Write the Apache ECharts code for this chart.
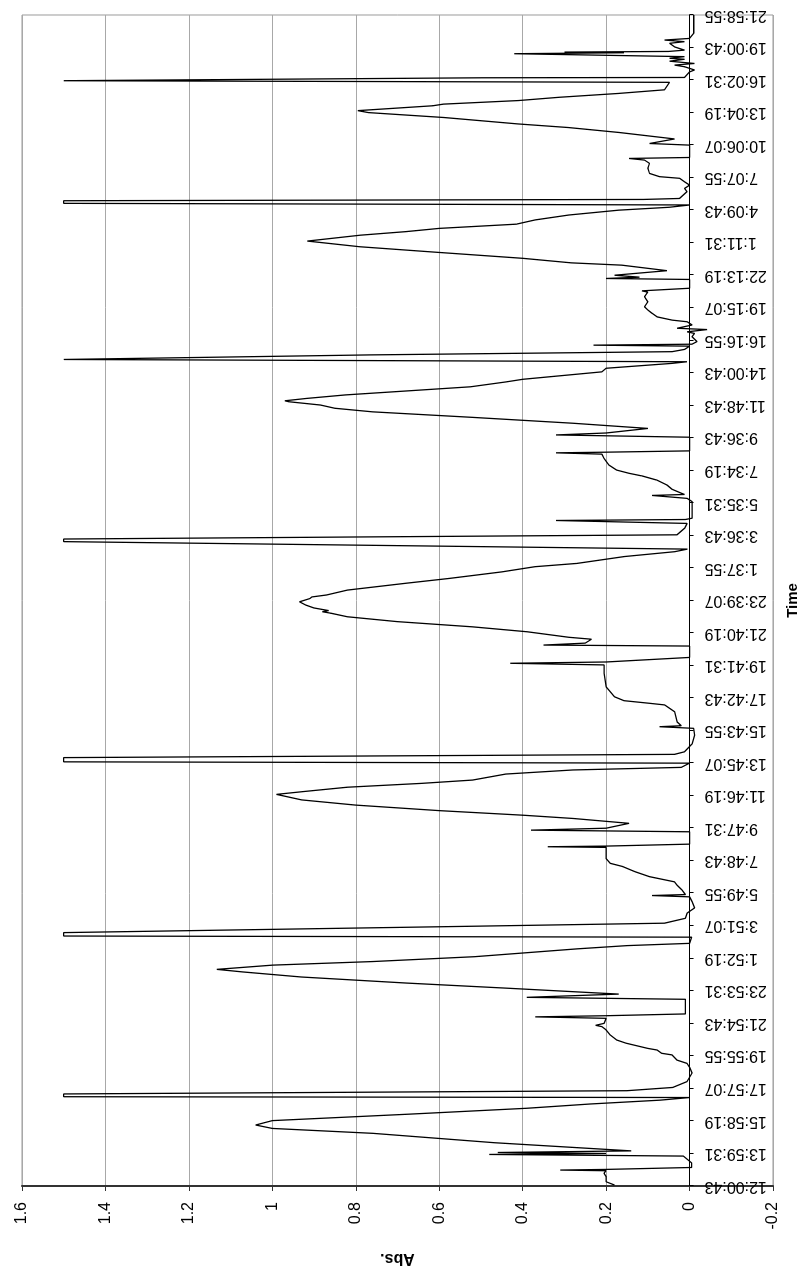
<!DOCTYPE html>
<html>
<head>
<meta charset="utf-8">
<title>Abs. vs Time</title>
<script src="https://cdn.jsdelivr.net/npm/echarts@6/dist/echarts.min.js"></script>
<style>
  html, body {
    margin: 0;
    padding: 0;
    background: #fff;
    overflow: hidden;
  }
  #page {
    position: relative;
    width: 808px;
    height: 1268px;
  }
  /* the chart is drawn lying on its side, like the scanned sheet */
  #chart {
    position: absolute;
    left: 0;
    top: 0;
    width: 1268px;
    height: 808px;
    transform-origin: 0 0;
    transform: translate(0, 1268px) rotate(-90deg);
  }
</style>
</head>
<body>
<div id="page"><div id="chart"></div></div>
<script>
// time labels on the category axis, one every label step
var timeLabels = ['12:00:43', '13:59:31', '15:58:19', '17:57:07', '19:55:55', '21:54:43', '23:53:31',
  '1:52:19', '3:51:07', '5:49:55', '7:48:43', '9:47:31', '11:46:19', '13:45:07', '15:43:55',
  '17:42:43', '19:41:31', '21:40:19', '23:39:07', '1:37:55', '3:36:43', '5:35:31', '7:34:19',
  '9:36:43', '11:48:43', '14:00:43', '16:16:55', '19:15:07', '22:13:19', '1:11:31', '4:09:43',
  '7:07:55', '10:06:07', '13:04:19', '16:02:31', '19:00:43', '21:58:55'];

// value axis ticks
var absTicks = [-0.2, 0, 0.2, 0.4, 0.6, 0.8, 1, 1.2, 1.4, 1.6];

// readings: [position in label steps, Abs.]
var absReadings = [
  [0.03, 0.18], [0.13, 0.2], [0.29, 0.2], [0.39, 0.205], [0.47, 0.2], [0.49, 0.31], [0.51, 0.2],
  [0.57, -0.005], [0.71, -0.005], [0.92, 0.015], [0.97, 0.48], [1.0, 0.2], [1.03, 0.46], [1.08, 0.14],
  [1.33, 0.467], [1.62, 0.76], [1.77, 1.0], [1.875, 1.04], [2.01, 1.0], [2.21, 0.67], [2.39, 0.39],
  [2.52, 0.24], [2.64, 0.07], [2.72, 0.0], [2.745, 1.5], [2.83, 1.5], [2.93, 0.15], [3.03, 0.04],
  [3.21, 0.006], [3.47, -0.006], [3.65, 0.0], [3.77, 0.006], [3.87, 0.03], [4.03, 0.042], [4.08, 0.067],
  [4.18, 0.078], [4.23, 0.1], [4.39, 0.152], [4.49, 0.175], [4.64, 0.19], [4.8, 0.2], [4.9, 0.21],
  [4.94, 0.225], [5.0, 0.205], [5.155, 0.2], [5.2, 0.37], [5.235, 0.2], [5.29, 0.01], [5.74, 0.01],
  [5.8, 0.39], [5.9, 0.17], [6.09, 0.45], [6.24, 0.68], [6.425, 0.93], [6.58, 1.07], [6.66, 1.133],
  [6.79, 1.0], [6.9, 0.76], [7.05, 0.515], [7.29, 0.27], [7.39, 0.15], [7.46, 0.0], [7.65, -0.005],
  [7.685, 1.5], [7.79, 1.5], [7.9, 0.95], [7.99, 0.5], [8.08, 0.06], [8.23, 0.01], [8.39, 0.006],
  [8.55, -0.012], [8.74, -0.006], [8.89, 0.0], [8.93, 0.09], [8.96, 0.01], [9.1, 0.018], [9.25, 0.03],
  [9.35, 0.036], [9.51, 0.096], [9.66, 0.13], [9.71, 0.14], [9.82, 0.16], [9.92, 0.19], [10.07, 0.2],
  [10.33, 0.2], [10.41, 0.2], [10.43, 0.34], [10.45, 0.2], [10.51, 0.0], [10.89, 0.0], [10.94, 0.38],
  [11.0, 0.2], [11.15, 0.145], [11.3, 0.28], [11.4, 0.4], [11.54, 0.6], [11.71, 0.8], [11.87, 0.93],
  [12.04, 0.99], [12.12, 0.93], [12.26, 0.82], [12.38, 0.64], [12.48, 0.52], [12.665, 0.44],
  [12.79, 0.28], [12.87, 0.02], [13.0, 0.0], [13.04, 1.5], [13.17, 1.5], [13.22, 0.77], [13.27, 0.036],
  [13.35, 0.012], [13.59, -0.006], [13.86, -0.012], [14.07, -0.01], [14.12, 0.072], [14.15, 0.02],
  [14.27, 0.03], [14.58, 0.036], [14.79, 0.06], [14.84, 0.096], [14.92, 0.157], [15.04, 0.18],
  [15.35, 0.2], [15.76, 0.205], [16.02, 0.205], [16.07, 0.43], [16.11, 0.2], [16.25, 0.0], [16.6, 0.0],
  [16.63, 0.35], [16.69, 0.25], [16.81, 0.235], [16.87, 0.29], [17.04, 0.39], [17.19, 0.52],
  [17.35, 0.7], [17.5, 0.82], [17.61, 0.86], [17.655, 0.88], [17.69, 0.865], [17.77, 0.9],
  [17.86, 0.92], [17.96, 0.935], [18.06, 0.91], [18.11, 0.905], [18.17, 0.87], [18.32, 0.82],
  [18.53, 0.68], [18.68, 0.575], [18.88, 0.45], [19.04, 0.37], [19.14, 0.27], [19.35, 0.157],
  [19.5, 0.036], [19.58, 0.005], [19.81, 1.5], [19.89, 1.5], [19.95, 0.83], [20.02, 0.03],
  [20.22, 0.012], [20.37, 0.006], [20.46, 0.32], [20.49, 0.01], [20.53, -0.006], [21.04, -0.006],
  [21.14, 0.006], [21.23, 0.09], [21.26, 0.012], [21.29, 0.018], [21.42, 0.042], [21.55, 0.054],
  [21.7, 0.078], [21.83, 0.114], [21.91, 0.145], [22.01, 0.175], [22.16, 0.193], [22.37, 0.205],
  [22.5, 0.21], [22.54, 0.32], [22.56, 0.2], [22.6, 0.0], [23.02, 0.0], [23.09, 0.32], [23.15, 0.2],
  [23.29, 0.1], [23.45, 0.28], [23.63, 0.52], [23.8, 0.76], [23.91, 0.85], [24.01, 0.885],
  [24.11, 0.96], [24.14, 0.97], [24.21, 0.92], [24.32, 0.825], [24.47, 0.645], [24.57, 0.525],
  [24.72, 0.44], [24.8, 0.4], [25.03, 0.21], [25.14, 0.2], [25.29, 0.042], [25.34, 0.006],
  [25.41, 1.5], [25.45, 1.5], [25.55, 0.77], [25.65, 0.042], [25.72, 0.012], [25.82, 0.0],
  [25.85, 0.23], [25.88, -0.006], [25.96, -0.018], [26.11, -0.006], [26.21, -0.012], [26.26, 0.006],
  [26.33, -0.042], [26.37, 0.03], [26.47, -0.006], [26.57, 0.006], [26.62, 0.042], [26.72, 0.078],
  [26.83, 0.09], [26.93, 0.1], [27.03, 0.108], [27.18, 0.1], [27.34, 0.108], [27.48, 0.1],
  [27.52, 0.114], [27.6, 0.0], [27.87, 0.0], [27.9, 0.2], [27.94, 0.12], [28.0, 0.18], [28.14, 0.054],
  [28.31, 0.163], [28.38, 0.283], [28.52, 0.4], [28.7, 0.6], [28.875, 0.79], [29.05, 0.916],
  [29.23, 0.79], [29.34, 0.68], [29.44, 0.6], [29.57, 0.415], [29.7, 0.37], [29.85, 0.29],
  [30.0, 0.17], [30.09, 0.048], [30.16, 0.0], [30.21, 1.5], [30.29, 1.5], [30.31, 0.8], [30.33, 0.11],
  [30.36, 0.024], [30.57, 0.006], [30.67, 0.012], [30.77, 0.0], [30.87, 0.012], [30.98, 0.024],
  [31.03, 0.072], [31.13, 0.096], [31.29, 0.1], [31.44, 0.096], [31.54, 0.108], [31.59, 0.145],
  [31.62, 0.0], [32.0, 0.0], [32.05, 0.096], [32.19, 0.036], [32.39, 0.17], [32.54, 0.29],
  [32.65, 0.41], [32.85, 0.59], [33.0, 0.77], [33.06, 0.795], [33.21, 0.615], [33.26, 0.59],
  [33.37, 0.41], [33.47, 0.313], [33.59, 0.169], [33.7, 0.06], [33.93, 0.048], [33.98, 1.5],
  [34.03, 1.5], [34.07, 0.5], [34.08, 0.012], [34.25, 0.0], [34.31, -0.012], [34.41, 0.012],
  [34.46, 0.036], [34.51, -0.012], [34.58, 0.048], [34.64, 0.012], [34.67, 0.048], [34.72, 0.012],
  [34.81, 0.42], [34.84, 0.157], [34.86, 0.3], [34.88, 0.05], [34.92, 0.012], [35.02, 0.036],
  [35.13, 0.048], [35.18, 0.012], [35.23, 0.06], [35.28, 0.0], [35.44, -0.01], [36.0, -0.01]
];

var fontFam = '"Liberation Sans", Arial, sans-serif';

var chart = echarts.init(document.getElementById('chart'), null, {renderer: 'canvas'});
chart.setOption({
  animation: false,
  backgroundColor: '#fff',
  grid: {
    left: 82,
    right: 15,
    top: 22,
    bottom: 35,
    outerBoundsMode: 'none',
    containLabel: false,
    show: true,
    borderColor: '#9a9a9a',
    borderWidth: 1
  },
  xAxis: {
    type: 'value',
    position: 'bottom',
    min: 0,
    max: timeLabels.length - 1,
    interval: 1,
    name: 'Time',
    nameLocation: 'middle',
    nameGap: 96,
    nameTextStyle: {fontFamily: fontFam, fontSize: 15, fontWeight: 'bold', color: '#000'},
    axisLine: {onZero: false, lineStyle: {color: '#000', width: 1.2}},
    axisTick: {show: true, length: 4, lineStyle: {color: '#000'}},
    splitLine: {show: false},
    axisLabel: {
      rotate: 90,
      margin: 15,
      fontFamily: fontFam,
      fontSize: 16,
      color: '#000',
      formatter: function (val) {
        return timeLabels[Math.round(val)] || '';
      }
    }
  },
  yAxis: {
    type: 'value',
    min: absTicks[0],
    max: absTicks[absTicks.length - 1],
    interval: 0.2,
    name: 'Abs.',
    nameLocation: 'middle',
    nameRotate: 90,
    nameGap: 64,
    nameTextStyle: {fontFamily: fontFam, fontSize: 16, fontWeight: 'bold', color: '#000'},
    axisLine: {show: true, lineStyle: {color: '#333', width: 2}},
    axisTick: {show: true, length: 5, lineStyle: {color: '#333'}},
    splitLine: {show: true, lineStyle: {color: '#a8a8a8', width: 1}},
    axisLabel: {
      margin: 16,
      fontFamily: fontFam,
      fontSize: 16,
      color: '#000',
      formatter: function (val) {
        return String(Math.round(val * 10) / 10);
      }
    }
  },
  series: [{
    type: 'line',
    data: absReadings,
    showSymbol: false,
    symbol: 'none',
    lineStyle: {color: '#000', width: 1.3},
    z: 5
  }]
});

// the time axis crosses the value axis at 0, so lift it there
var zeroPx = chart.convertToPixel({yAxisIndex: 0}, 0);
var minPx = chart.convertToPixel({yAxisIndex: 0}, absTicks[0]);
chart.setOption({xAxis: {offset: zeroPx - minPx}});
</script>
</body>
</html>
